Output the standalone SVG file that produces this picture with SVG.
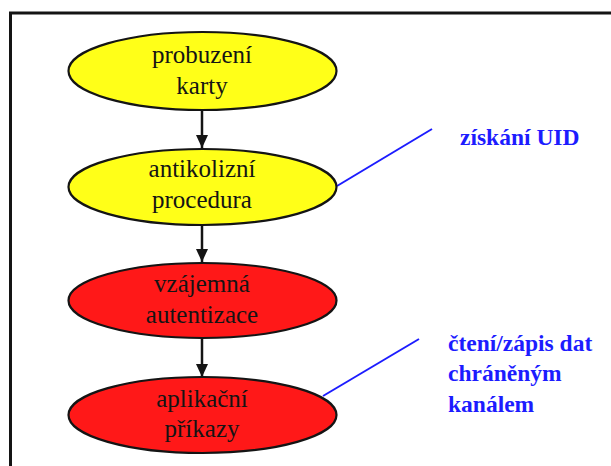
<svg xmlns="http://www.w3.org/2000/svg" width="611" height="466" viewBox="0 0 611 466">
  <style>
    .yel { fill: #ffff18; stroke: #141414; stroke-width: 2.2; }
    .red { fill: #ff1818; stroke: #141414; stroke-width: 2.2; }
    .lbl { font-family: 'Liberation Serif', 'DejaVu Serif', serif; font-size: 25px; fill: #141414; text-anchor: middle; }
    .note { font-family: 'Liberation Serif', 'DejaVu Serif', serif; font-size: 23.5px; font-weight: bold; fill: #1c1cff; }
    .conn { stroke: #141414; stroke-width: 2.5; fill: none; }
    .lead { stroke: #1c1cff; stroke-width: 2; fill: none; }
  </style>
  <defs>
    <marker id="ah" viewBox="0 0 13 12" refX="13" refY="6" markerWidth="13" markerHeight="12" markerUnits="userSpaceOnUse" orient="auto">
      <path d="M0,0 L13,6 L0,12 Z" fill="#141414"/>
    </marker>
  </defs>
  <rect width="611" height="466" fill="#ffffff"/>
  <path d="M10.5 466 V13 H611" fill="none" stroke="#141414" stroke-width="3"/>

  <g id="connectors">
    <line class="conn" x1="202" y1="110" x2="202" y2="148" marker-end="url(#ah)"/>
    <line class="conn" x1="202" y1="225" x2="202" y2="262" marker-end="url(#ah)"/>
    <line class="conn" x1="202" y1="338" x2="202" y2="377" marker-end="url(#ah)"/>
    <line class="lead" x1="337" y1="186" x2="432" y2="129"/>
    <line class="lead" x1="323" y1="396" x2="419" y2="339"/>
  </g>

  <g id="n1">
    <ellipse class="yel" cx="202.5" cy="71" rx="134" ry="39"/>
    <text class="lbl" x="202" y="63" font-family="Liberation Serif, serif">probuzení</text>
    <text class="lbl" x="202" y="94" font-family="Liberation Serif, serif">karty</text>
  </g>
  <g id="n2">
    <ellipse class="yel" cx="202.5" cy="187" rx="134" ry="38"/>
    <text class="lbl" x="202" y="177" font-family="Liberation Serif, serif">antikolizní</text>
    <text class="lbl" x="202" y="208" font-family="Liberation Serif, serif">procedura</text>
  </g>
  <g id="n3">
    <ellipse class="red" cx="202.5" cy="300.5" rx="134" ry="37.5"/>
    <text class="lbl" x="202" y="292" font-family="Liberation Serif, serif">vzájemná</text>
    <text class="lbl" x="202" y="323" font-family="Liberation Serif, serif">autentizace</text>
  </g>
  <g id="n4">
    <ellipse class="red" cx="202.5" cy="415" rx="134" ry="38"/>
    <text class="lbl" x="202" y="407" font-family="Liberation Serif, serif">aplikační</text>
    <text class="lbl" x="202" y="437" font-family="Liberation Serif, serif">příkazy</text>
  </g>

  <g id="note1">
    <text class="note" x="460" y="145" font-family="Liberation Serif, serif">získání UID</text>
  </g>
  <g id="note2">
    <text class="note" x="448" y="351" font-family="Liberation Serif, serif">čtení/zápis dat</text>
    <text class="note" x="448" y="381" font-family="Liberation Serif, serif">chráněným</text>
    <text class="note" x="448" y="412" font-family="Liberation Serif, serif">kanálem</text>
  </g>
</svg>
